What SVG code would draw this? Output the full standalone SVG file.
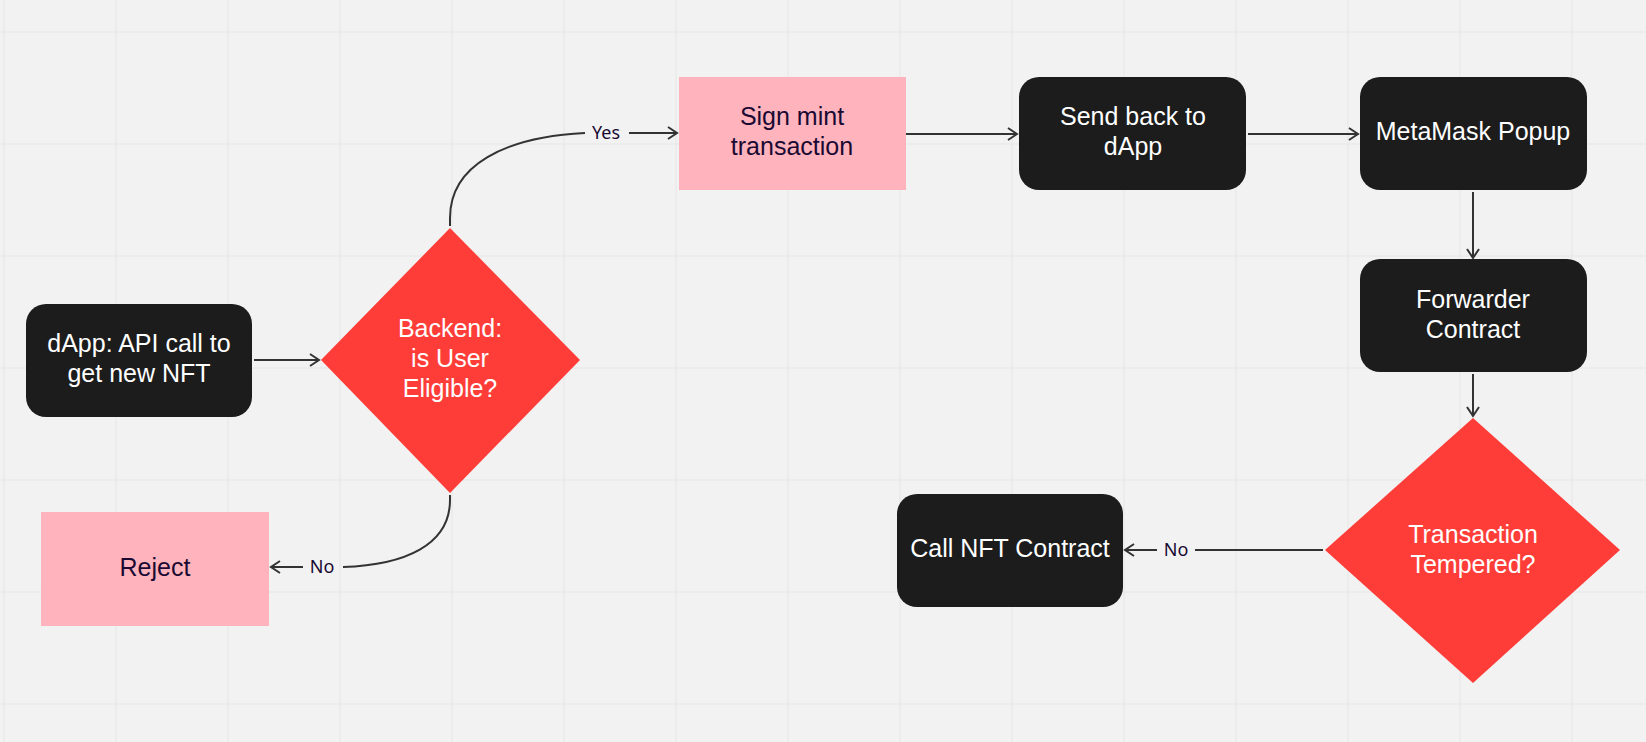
<svg xmlns="http://www.w3.org/2000/svg" width="1646" height="742" viewBox="0 0 1646 742">
<defs>
<style>
.grid line{stroke:#e6e6e6;stroke-width:1}
.dark{fill:#1c1c1c}
.pink{fill:#ffb3bc}
.red{fill:#ff3d38}
.t{font-family:"Liberation Sans",Arial,sans-serif;font-size:25px;text-anchor:middle}
.w{fill:#ffffff}
.n{fill:#1a0a33}
.lbl{font-family:"Noto Sans","Open Sans",sans-serif;font-size:18px;fill:#1a0a33;text-anchor:middle}
.c{fill:none;stroke:#333333;stroke-width:2}
</style>
<marker id="ah" markerWidth="14" markerHeight="14" refX="11" refY="7" orient="auto" markerUnits="userSpaceOnUse">
<path d="M2,1 L11,7 L2,13" fill="none" stroke="#333333" stroke-width="2"/>
</marker>
</defs>
<rect width="1646" height="742" fill="#f2f2f2"/>
<g class="grid">
<line x1="4" y1="0" x2="4" y2="742"/><line x1="116" y1="0" x2="116" y2="742"/><line x1="228" y1="0" x2="228" y2="742"/><line x1="340" y1="0" x2="340" y2="742"/><line x1="452" y1="0" x2="452" y2="742"/><line x1="564" y1="0" x2="564" y2="742"/><line x1="676" y1="0" x2="676" y2="742"/><line x1="788" y1="0" x2="788" y2="742"/><line x1="900" y1="0" x2="900" y2="742"/><line x1="1012" y1="0" x2="1012" y2="742"/><line x1="1124" y1="0" x2="1124" y2="742"/><line x1="1236" y1="0" x2="1236" y2="742"/><line x1="1348" y1="0" x2="1348" y2="742"/><line x1="1460" y1="0" x2="1460" y2="742"/><line x1="1572" y1="0" x2="1572" y2="742"/>
<line x1="0" y1="32" x2="1646" y2="32"/><line x1="0" y1="144" x2="1646" y2="144"/><line x1="0" y1="256" x2="1646" y2="256"/><line x1="0" y1="368" x2="1646" y2="368"/><line x1="0" y1="480" x2="1646" y2="480"/><line x1="0" y1="592" x2="1646" y2="592"/><line x1="0" y1="704" x2="1646" y2="704"/>
</g>
<g id="connectors">
<path class="c" d="M254,360 L319,360" marker-end="url(#ah)"/>
<path class="c" d="M450,226 L450,218 C450,165 505,137 585,133"/>
<path class="c" d="M629,133 L677,133" marker-end="url(#ah)"/>
<text class="lbl" x="606" y="139">Yes</text>
<path class="c" d="M450,495 L450,500 C450,545 405,565 343,567"/>
<path class="c" d="M303,567 L271,567" marker-end="url(#ah)"/>
<text class="lbl" x="322" y="573">No</text>
<path class="c" d="M906,134 L1017,134" marker-end="url(#ah)"/>
<path class="c" d="M1248,134 L1358,134" marker-end="url(#ah)"/>
<path class="c" d="M1473,192 L1473,258" marker-end="url(#ah)"/>
<path class="c" d="M1473,374 L1473,416" marker-end="url(#ah)"/>
<path class="c" d="M1323,550 L1195,550"/>
<path class="c" d="M1157,550 L1125,550" marker-end="url(#ah)"/>
<text class="lbl" x="1176" y="556">No</text>
</g>
<g id="dapp"><rect class="dark" x="26" y="304" width="226" height="113" rx="20"/><text class="t w" x="139" y="352">dApp: API call to</text><text class="t w" x="139" y="382">get new NFT</text></g>
<g id="backend"><polygon class="red" points="450,228 580,360 450,493 321,360"/><text class="t w" x="450" y="337">Backend:</text><text class="t w" x="450" y="367">is User</text><text class="t w" x="450" y="397">Eligible?</text></g>
<g id="reject"><rect class="pink" x="41" y="512" width="228" height="114"/><text class="t n" x="155" y="576">Reject</text></g>
<g id="sign"><rect class="pink" x="679" y="77" width="227" height="113"/><text class="t n" x="792" y="125">Sign mint</text><text class="t n" x="792" y="155">transaction</text></g>
<g id="send"><rect class="dark" x="1019" y="77" width="227" height="113" rx="20"/><text class="t w" x="1133" y="125">Send back to</text><text class="t w" x="1133" y="155">dApp</text></g>
<g id="metamask"><rect class="dark" x="1360" y="77" width="227" height="113" rx="20"/><text class="t w" x="1473" y="140">MetaMask Popup</text></g>
<g id="forwarder"><rect class="dark" x="1360" y="259" width="227" height="113" rx="20"/><text class="t w" x="1473" y="308">Forwarder</text><text class="t w" x="1473" y="338">Contract</text></g>
<g id="tempered"><polygon class="red" points="1473,418 1620,550 1473,683 1325,550"/><text class="t w" x="1473" y="543">Transaction</text><text class="t w" x="1473" y="573">Tempered?</text></g>
<g id="callnft"><rect class="dark" x="897" y="494" width="226" height="113" rx="20"/><text class="t w" x="1010" y="557">Call NFT Contract</text></g>
</svg>
